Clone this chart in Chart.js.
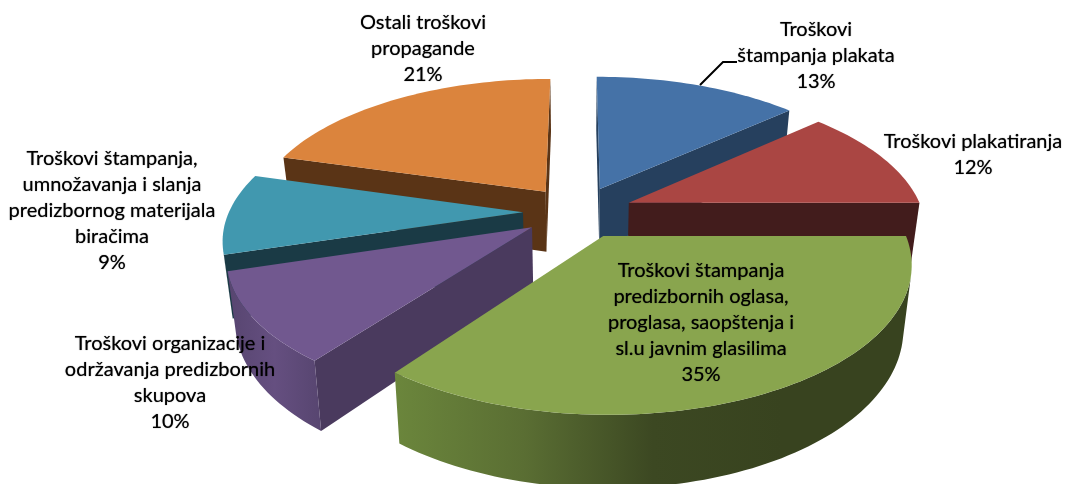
<!DOCTYPE html>
<html>
<head>
<meta charset="utf-8">
<script src="https://cdn.jsdelivr.net/npm/chart.js@4/dist/chart.umd.min.js"></script>
<style>
  html, body { margin: 0; padding: 0; background: #fff; }
  canvas { display: block; }
</style>
</head>
<body>
<canvas id="pie3d" width="1065" height="484"></canvas>
<script>
const categories = [
  "Troškovi štampanja plakata",
  "Troškovi plakatiranja",
  "Troškovi štampanja predizbornih oglasa, proglasa, saopštenja i sl.u javnim glasilima",
  "Troškovi organizacije i održavanja predizbornih skupova",
  "Troškovi štampanja, umnožavanja i slanja predizbornog materijala biračima",
  "Ostali troškovi propagande",
];
// the labels show them rounded
const shares = [13.4, 11.6, 35.3, 10, 9.1, 20.6];

const topColors = ["#4572a7", "#aa4643", "#89a54e", "#71588f", "#4198af", "#db843d"];
const wallColors = ["#26405e", "#421c1c", "#3a4520", "#4a3a5e", "#1a3a45", "#5a3416"];
// outer wall shading, left to right across the visible part of each rim
const rimStops = [
  ["#26405e", "#26405e"],
  ["#421c1c", "#421c1c"],
  ["#6b863c", "#5a6e33", "#3c4822", "#38431f", "#38431f"],
  ["#574570", "#654f80", "#574570"],
  ["#1a3a45", "#1a3a45"],
  ["#5a3416", "#5a3416"],
];

// wrapped label text, one entry per slice, percent is added from shares
const labelLines = [
  ["Troškovi", "štampanja plakata"],
  ["Troškovi plakatiranja"],
  ["Troškovi štampanja", "predizbornih oglasa,", "proglasa, saopštenja i", "sl.u javnim glasilima"],
  ["Troškovi organizacije i", "održavanja predizbornih", "skupova"],
  ["Troškovi štampanja,", "umnožavanja i slanja", "predizbornog materijala", "biračima"],
  ["Ostali troškovi", "propagande"],
];
const labelX = [816, 973, 701, 170, 112, 423];
const labelY = [30, 142, 271, 344, 159, 23];
const lineGap = 26;

const drawOrder = [5, 0, 1, 4, 3, 2];

// camera
const cx = 578, cy = 212, radius = 294, depth = 62;
const flatten = 0.472, viewDist = 1706, taper = 0.025;

function project(u, v, z) {
  const s = viewDist / (viewDist - v);
  return {
    x: cx + u * s * (1 - taper * z),
    y: cy + (flatten * v + depth * z) * s * (1 - taper * z * 0.6),
  };
}

function area(pts) {
  let a = 0;
  pts.forEach((p, i) => {
    const q = pts[(i + 1) % pts.length];
    a += p.x * q.y - q.x * p.y;
  });
  return a / 2;
}

function fillPoly(ctx, pts, color) {
  ctx.beginPath();
  pts.forEach((p, i) => (i ? ctx.lineTo(p.x, p.y) : ctx.moveTo(p.x, p.y)));
  ctx.closePath();
  ctx.fillStyle = color;
  ctx.fill();
}

function drawSlice(ctx, arc, i) {
  const a0 = arc.startAngle, a1 = arc.endAngle, mid = (a0 + a1) / 2;
  const ox = arc.options.offset * Math.cos(mid);
  const oy = arc.options.offset * Math.sin(mid);
  const steps = Math.max(8, Math.round((a1 - a0) * 40));
  const rim = [];
  for (let k = 0; k <= steps; k++) {
    const a = a0 + (a1 - a0) * k / steps;
    rim.push([ox + radius * Math.cos(a), oy + radius * Math.sin(a)]);
  }
  const first = rim[0], last = rim[steps];

  // radial walls, the ones turned away from the camera are skipped
  const wallA = [project(first[0], first[1], 0), project(ox, oy, 0), project(ox, oy, 1), project(first[0], first[1], 1)];
  const wallB = [project(ox, oy, 0), project(last[0], last[1], 0), project(last[0], last[1], 1), project(ox, oy, 1)];
  [wallA, wallB].forEach((w) => {
    if (area(w) > 0) fillPoly(ctx, w, wallColors[i]);
  });

  // outer wall: only the rim pieces that face the camera, as one shape
  const upper = [], lower = [];
  for (let k = 0; k < steps; k++) {
    const p = rim[k], q = rim[k + 1];
    const quad = [project(q[0], q[1], 0), project(p[0], p[1], 0), project(p[0], p[1], 1), project(q[0], q[1], 1)];
    if (area(quad) > 0) {
      if (!upper.length) {
        upper.push(quad[1]);
        lower.push(quad[2]);
      }
      upper.push(quad[0]);
      lower.push(quad[3]);
    }
  }
  if (upper.length) {
    const outline = upper.concat(lower.reverse());
    const xs = outline.map((p) => p.x);
    const grad = ctx.createLinearGradient(Math.min(...xs), 0, Math.max(...xs), 0);
    rimStops[i].forEach((c, k) => grad.addColorStop(k / (rimStops[i].length - 1), c));
    fillPoly(ctx, outline, grad);
  }

  // top face
  const top = [project(ox, oy, 0)].concat(rim.map((p) => project(p[0], p[1], 0)));
  fillPoly(ctx, top, topColors[i]);
}

const pie3dPlugin = {
  id: "pie3d",
  beforeDatasetDraw(chart) {
    const ctx = chart.ctx;
    const arcs = chart.getDatasetMeta(0).data;
    ctx.save();
    drawOrder.forEach((i) => drawSlice(ctx, arcs[i], i));
    ctx.restore();
    return false;
  },
  afterDraw(chart) {
    const ctx = chart.ctx;
    ctx.save();
    // leader line of the first label
    ctx.strokeStyle = "#000";
    ctx.lineWidth = 2;
    ctx.beginPath();
    ctx.moveTo(700, 85);
    ctx.lineTo(723, 62);
    ctx.lineTo(737, 62);
    ctx.stroke();

    // the soft shadow thickens the glyphs like the blurry original
    ctx.shadowColor = "rgba(0,0,0,0.7)";
    ctx.shadowBlur = 1;
    ctx.fillStyle = "#000";
    ctx.font = "20px Lato";
    ctx.textAlign = "center";
    ctx.textBaseline = "middle";
    labelLines.forEach((lines, i) => {
      lines.concat(Math.round(shares[i]) + "%").forEach((line, k) => {
        ctx.fillText(line, labelX[i], labelY[i] + k * lineGap);
      });
    });
    ctx.restore();
  },
};

new Chart(document.getElementById("pie3d"), {
  type: "pie",
  plugins: [pie3dPlugin],
  data: {
    labels: categories,
    datasets: [
      {
        data: shares,
        backgroundColor: topColors,
        offset: 55,
        borderWidth: 0,
      },
    ],
  },
  options: {
    responsive: false,
    animation: false,
    events: [],
    plugins: {
      legend: { display: false },
      tooltip: { enabled: false },
    },
  },
});
</script>
</body>
</html>
